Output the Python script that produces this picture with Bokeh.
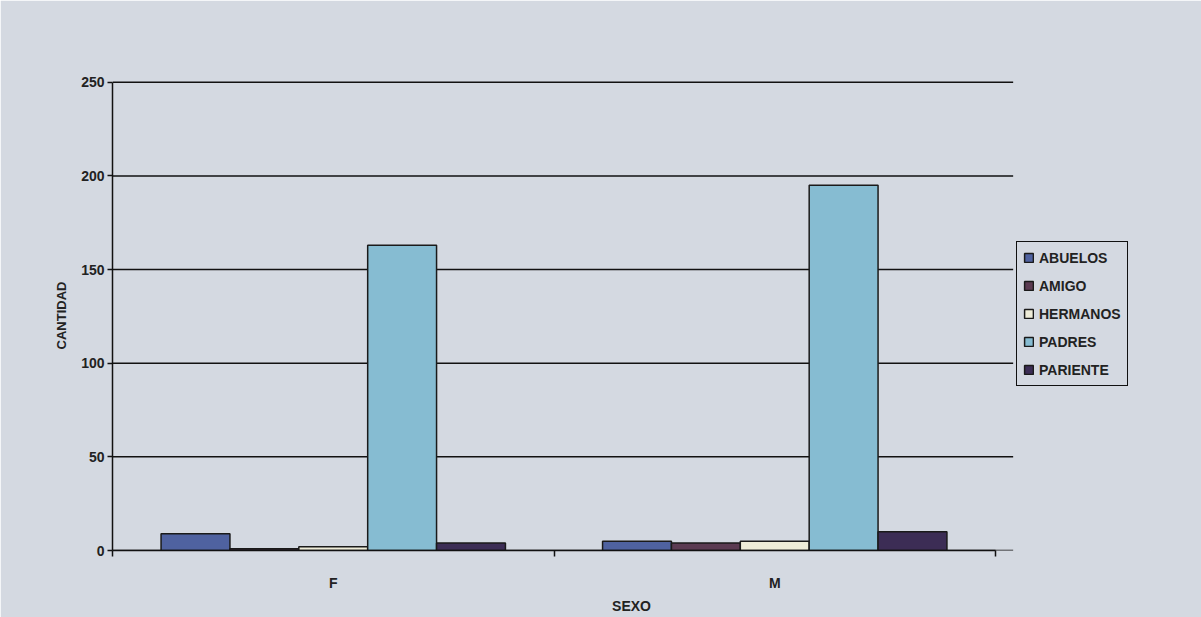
from bokeh.plotting import figure
from bokeh.models import (ColumnDataSource, Range1d, FixedTicker, Legend, LegendItem)
from bokeh.transform import dodge
from bokeh.embed import file_html
from bokeh.resources import INLINE

# ---- data ----
sexo = ["F", "M"]
series = ["ABUELOS", "AMIGO", "HERMANOS", "PADRES", "PARIENTE"]
abuelos = [9, 5]
amigo = [1, 4]
hermanos = [2, 5]
padres = [163, 195]
pariente = [4, 10]
colors = ["#4f62a0", "#5b3b52", "#eeecd8", "#86bcd2", "#3c2d55"]
y_ticks = [0, 50, 100, 150, 200, 250]

values = [abuelos, amigo, hermanos, padres, pariente]
xpos = [i + 0.5 for i in range(len(sexo))]
ncat = len(sexo)
y_max = y_ticks[-1]

BG = "#d4d9e1"
FONT = "Liberation Sans"

# layout (pixels): frame from 112 to 1150, categories occupy 112..995
left_px, cat_right_px, frame_right_px = 112, 995, 1150
x_end = ncat * (frame_right_px - left_px) / (cat_right_px - left_px)

p = figure(width=1201, height=617, output_backend="svg", toolbar_location=None,
           x_range=Range1d(0, x_end), y_range=Range1d(0, y_max + 1),
           min_border_left=left_px, min_border_right=1201 - frame_right_px,
           min_border_top=80, min_border_bottom=67)
p.background_fill_color = BG
p.border_fill_color = BG
p.outline_line_color = BG
p.xgrid.grid_line_color = None
p.ygrid.grid_line_color = None

# horizontal gridlines (ending a little past the category axis)
p.segment(x0=[0] * len(y_ticks), x1=[ncat * 1.02] * len(y_ticks), y0=y_ticks, y1=y_ticks,
          line_color="#111111", line_width=1.5)

bw = 0.156
renderers = []
for k, (name, vals, col) in enumerate(zip(series, values, colors)):
    src = ColumnDataSource(dict(x=xpos, top=vals))
    r = p.vbar(x=dodge("x", (k - 2) * bw, range=p.x_range), top="top", width=bw,
               bottom=0, source=src, fill_color=col, line_color="#1a1a1a",
               line_width=1.5)
    renderers.append((name, r))

# y axis
p.yaxis.bounds = (0, y_max)
p.yaxis.ticker = FixedTicker(ticks=y_ticks)
p.yaxis.axis_line_color = "#111111"
p.yaxis.axis_line_width = 1.5
p.yaxis.major_tick_line_color = "#111111"
p.yaxis.major_tick_line_width = 1.5
p.yaxis.major_tick_out = 5
p.yaxis.major_tick_in = 0
p.yaxis.minor_tick_line_color = None
p.yaxis.major_label_standoff = 3
p.yaxis.major_label_text_font = FONT
p.yaxis.major_label_text_font_style = "bold"
p.yaxis.major_label_text_font_size = "14px"
p.yaxis.major_label_text_color = "#222222"
p.yaxis.axis_label = "CANTIDAD"
p.yaxis.axis_label_text_font = FONT
p.yaxis.axis_label_text_font_style = "bold"
p.yaxis.axis_label_text_font_size = "13px"
p.yaxis.axis_label_text_color = "#222222"
p.yaxis.axis_label_standoff = 9

# x axis
p.xaxis.bounds = (0, ncat)
p.xaxis.ticker = FixedTicker(ticks=xpos, minor_ticks=list(range(ncat + 1)))
p.xaxis.major_label_overrides = {x: s for x, s in zip(xpos, sexo)}
p.xaxis.axis_line_color = "#111111"
p.xaxis.axis_line_width = 1.5
p.xaxis.major_tick_line_color = None
p.xaxis.minor_tick_line_color = "#111111"
p.xaxis.minor_tick_line_width = 1.5
p.xaxis.minor_tick_out = 6
p.xaxis.minor_tick_in = 0
p.xaxis.major_label_standoff = 18
p.xaxis.major_label_text_font = FONT
p.xaxis.major_label_text_font_style = "bold"
p.xaxis.major_label_text_font_size = "14px"
p.xaxis.major_label_text_color = "#222222"
p.xaxis.axis_label = "SEXO"
p.xaxis.axis_label_text_font = FONT
p.xaxis.axis_label_text_font_style = "bold"
p.xaxis.axis_label_text_font_size = "14px"
p.xaxis.axis_label_text_color = "#222222"
p.xaxis.axis_label_standoff = 4

legend = Legend(items=[LegendItem(label=n, renderers=[r]) for n, r in renderers],
                location=(904, 164))
legend.background_fill_color = BG
legend.background_fill_alpha = 1.0
legend.border_line_color = "#111111"
legend.border_line_alpha = 1.0
legend.border_line_width = 1.5
legend.label_text_font = FONT
legend.label_text_font_style = "bold"
legend.label_text_font_size = "14px"
legend.label_text_color = "#222222"
legend.glyph_width = 11
legend.glyph_height = 11
legend.label_standoff = 5
legend.spacing = 9
legend.label_height = 19
legend.padding = 6
legend.margin = 0
p.add_layout(legend, "center")

open("out.html", "w").write(file_html(p, INLINE))
